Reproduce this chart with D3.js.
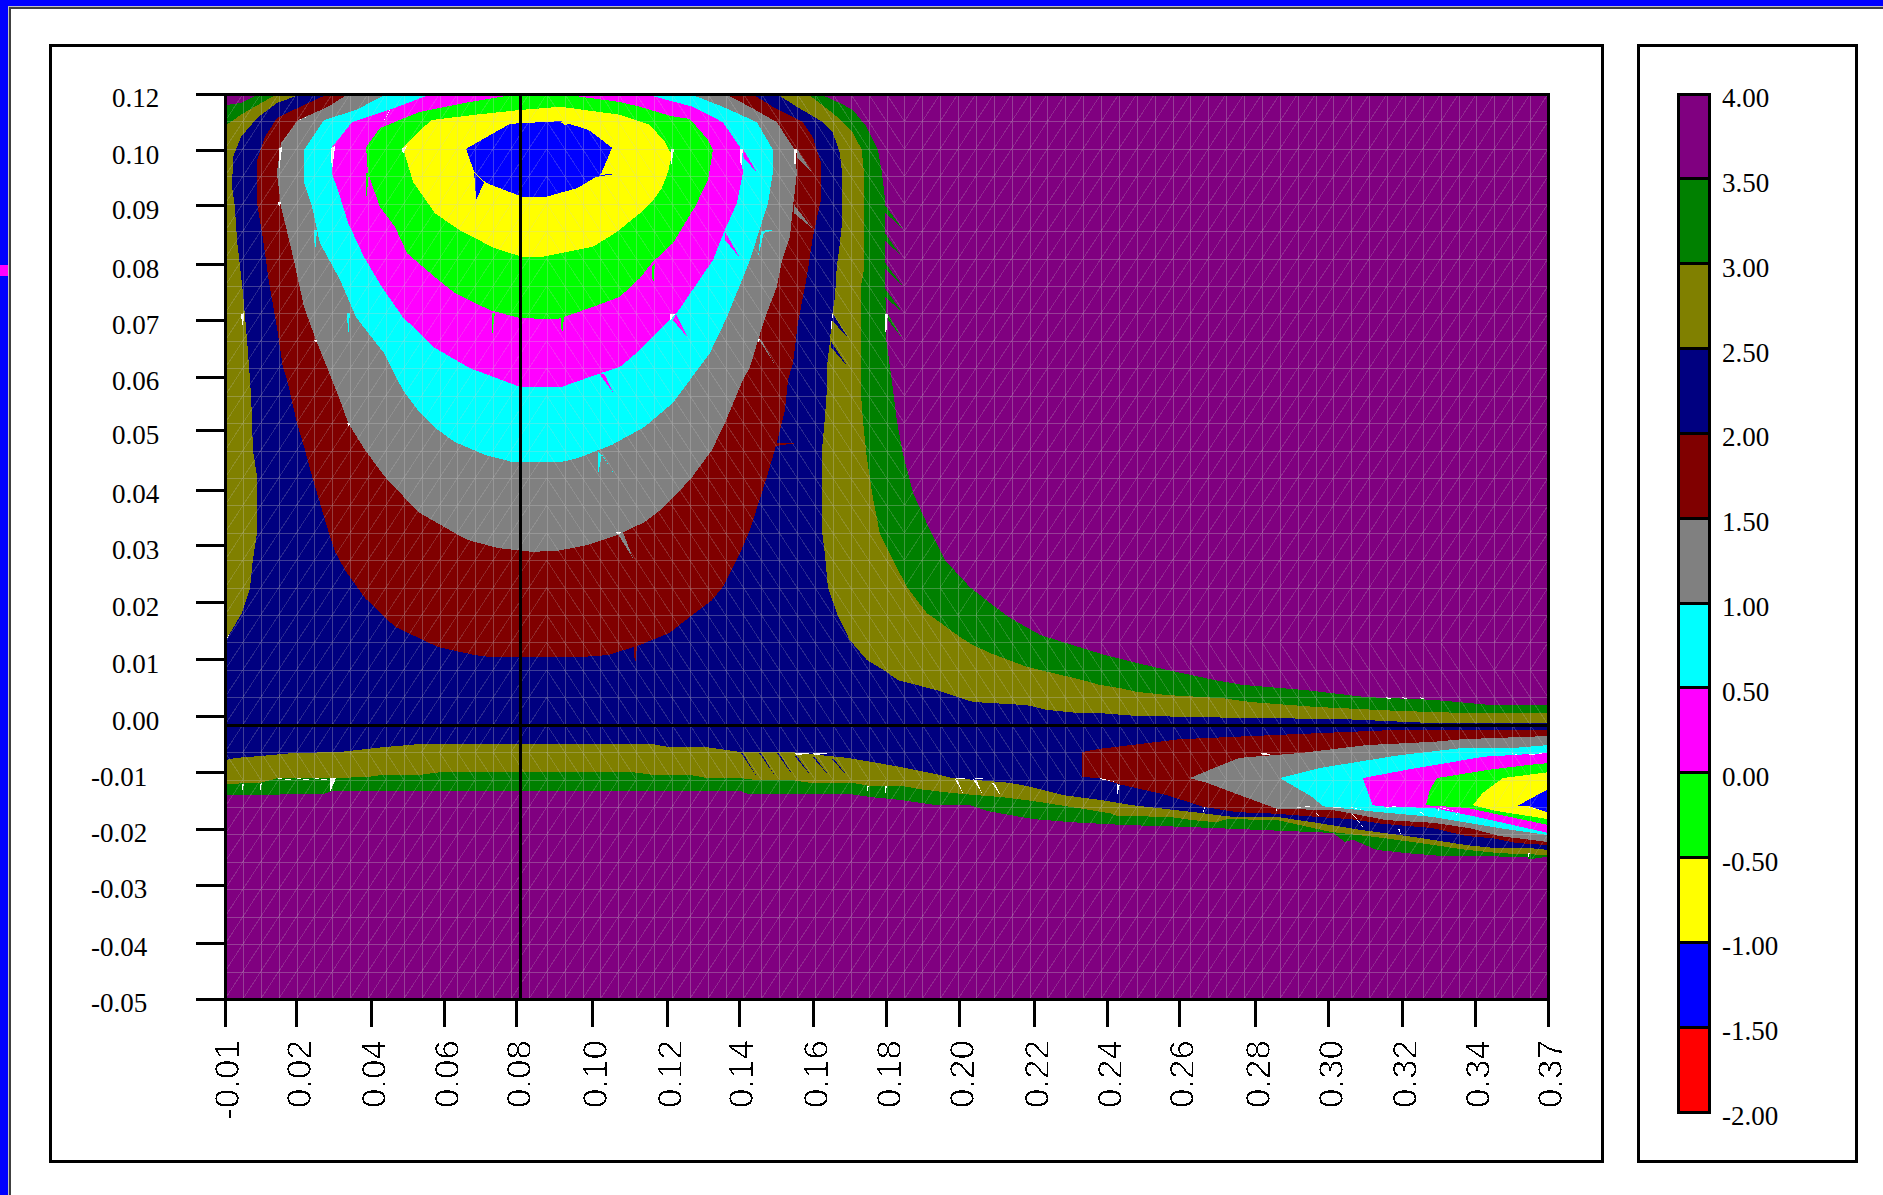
<!DOCTYPE html>
<html><head><meta charset="utf-8">
<script src="https://cdnjs.cloudflare.com/ajax/libs/d3/7.8.5/d3.min.js"></script>
<style>html,body{margin:0;padding:0;background:#fff;overflow:hidden}svg{display:block}</style>
</head><body><svg id="c" width="1883" height="1195"></svg>
<script>
// All coordinates below are in thousandths of the axis units.
const xTickVals=[-5,15.4,36.6,57.3,77.7,99.3,120.5,140.7,161.9,182.6,203.3,224.5,245.2,265.6,287.2,307.9,328.8,349.5,370];
const xTickLabels=["-0.01","0.02","0.04","0.06","0.08","0.10","0.12","0.14","0.16","0.18","0.20","0.22","0.24","0.26","0.28","0.30","0.32","0.34","0.37"];
const yTickVals=[120,109.3,99,87.9,77.4,66.8,56.7,45.6,35.1,24.4,13.7,3,-7.5,-18.1,-28.6,-39.5,-50];
const yTickLabels=["0.12","0.10","0.09","0.08","0.07","0.06","0.05","0.04","0.03","0.02","0.01","0.00","-0.01","-0.02","-0.03","-0.04","-0.05"];
const legendLevels=[4,3.5,3,2.5,2,1.5,1,0.5,0,-0.5,-1,-1.5,-2];
const legendLabels=["4.00","3.50","3.00","2.50","2.00","1.50","1.00","0.50","0.00","-0.50","-1.00","-1.50","-2.00"];
const bandColors=["#ff0000","#0000ff","#ffff00","#00ff00","#ff00ff","#00ffff","#808080","#800000","#000080","#808000","#008000","#800080"];
const crossX=78.9, crossY=1.3;

const c35=[[4.6,120],[-0.5,118.3],[-5,117.9],[-5,-11.7],[22.8,-11.5],[25.6,-10.9],[72.9,-10.9],[141,-10.9],[143.2,-11.5],[172.1,-11.5],[178.6,-12.1],[186.3,-12.6],[196.8,-13.6],[206.1,-13.6],[211.2,-14.7],[224,-16.2],[235.3,-16.8],[249.5,-17.3],[268.5,-17.7],[309,-18.8],[312.4,-20.5],[314.7,-20.1],[321.5,-22],[330,-22.6],[339.3,-23.1],[364.8,-23.3],[370,-23.3],[370,5.2],[354.3,5.2],[337.3,6.2],[318.6,6.7],[301.6,8],[283.5,9],[275.6,9.9],[258,12.4],[244.4,14.6],[226,18.4],[217.5,21.6],[211.8,24.4],[206.1,27.4],[199,32.5],[194.8,38.1],[190,45.1],[187.1,52.6],[185.4,58.8],[184,66.3],[182.3,74.4],[182,100.7],[181.2,105.2],[180.1,109.5],[176.9,113.8],[173,117],[169.9,118.1],[163.6,120]];
const c30=[[9.7,120],[-0.5,116.1],[-5,114],[-5,-9.6],[4.9,-9.4],[10,-8.5],[25.6,-8.5],[35.2,-8.3],[39.8,-7.9],[50.3,-7.9],[55.9,-7.4],[72.9,-7.4],[110.6,-7.4],[116.3,-7.9],[126.8,-7.9],[131.6,-8.5],[141,-8.5],[145.8,-8.9],[156,-8.9],[160.8,-9.4],[173,-9.4],[177.8,-10],[187.1,-10],[192,-10.6],[198.5,-11.1],[204.1,-11.5],[215.5,-12.1],[224,-12.8],[233.6,-13.8],[245.8,-15.1],[247.8,-15.6],[262.8,-15.8],[269.3,-16.4],[276.1,-16.8],[279,-16.2],[293.4,-16.4],[308.2,-18.6],[321.5,-19.6],[333.7,-20.7],[347,-22],[356.3,-22.6],[370,-23],[370,3.7],[347.8,3.7],[328,4.1],[303.3,4.9],[285.5,5.8],[277.8,6.5],[262,7.1],[253.5,7.7],[248.6,8.4],[243,9],[238.2,9.9],[226,11.8],[222.3,12.4],[211.8,15],[207,16.5],[203.3,18],[197.6,20.8],[193.9,22.5],[188.3,27.4],[184.3,32.5],[180.6,37.5],[178.6,44.3],[176.9,51.8],[175.8,58.8],[175.2,64.4],[175.2,83.7],[176.1,86.9],[176.1,105.2],[175.5,109.5],[173,112.7],[170.1,114.7],[167.3,116.4],[160.2,120]];
const c25=[[16.8,120],[9.7,118.3],[4.1,115.5],[-0.5,111.9],[-2.7,108.2],[-3,102.5],[-2.2,98.8],[-1.6,92.6],[0.1,82.6],[1.2,74.2],[2.1,66.3],[2.6,60.1],[2.9,53.1],[4.1,48.1],[4.1,37.7],[2.9,32.5],[2.1,27.2],[-0.2,22.5],[-4.4,17.8],[-5,17.4],[-5,-5.1],[-1.6,-4.7],[4.3,-4.4],[14.3,-3.8],[27.6,-3.6],[39.8,-2.7],[50.3,-2.1],[116,-2.1],[121.1,-2.7],[131.6,-2.7],[141,-3.6],[155.1,-3.6],[171.3,-4.7],[176.9,-5.3],[186.3,-6.4],[197.6,-7.9],[201.3,-8.5],[217.5,-9.4],[222.3,-10],[232.5,-11.7],[243,-12.6],[252.3,-13.6],[272.2,-15.1],[280.7,-15.8],[293.1,-15.8],[304.5,-16.9],[317.5,-18.3],[328,-19.2],[337.3,-20.1],[347,-21.1],[354.3,-21.6],[364,-21.6],[370,-22],[370,1.8],[338.5,1.8],[311,2.6],[282.6,2.8],[252.9,3.2],[243,3.7],[237.3,3.7],[228,4.3],[222.3,5.2],[207,5.8],[196.8,8],[185.7,9.9],[182.6,11.4],[176.9,13.7],[172.1,17.4],[168.4,22.5],[165.9,27.4],[165,33.8],[164.2,38.1],[164.2,53.1],[165,58.8],[165.6,64.4],[165.6,68.7],[166.5,73.8],[167,78.1],[167.9,81.9],[168.4,87.5],[169.3,92],[169.9,95.8],[169.9,105.2],[169.3,108.9],[167.3,112.7],[164.5,114.7],[157.1,117.6],[151.4,120]];
const c20=[[24.2,120],[16.3,117.6],[9.7,115.5],[6.3,111.9],[4.1,107.6],[4.1,99.5],[5.8,92.6],[7.5,84.5],[9.7,76.2],[11.4,68.7],[12.6,66.3],[15.4,58.2],[17.7,53.1],[19.7,48.1],[24.2,38.1],[26.2,34],[29,30.6],[34.7,25.3],[43.2,19.9],[55.4,16.1],[65.9,14.6],[70.7,14.2],[95,14.2],[103.5,14.6],[112.6,16.5],[121.1,18.8],[126.8,21.8],[133,24.9],[136.1,27.4],[141,33.8],[143.8,38.1],[148.6,48.1],[151.4,54.4],[153.7,60.6],[154.6,66.3],[156,69.5],[157.4,77],[159.9,85.6],[161.6,93.1],[163.9,100.1],[163.9,107.2],[161.6,111.9],[158.8,114.7],[150.3,117.6],[144.4,120]];
const w20=[[237.9,-3.6],[243,-3],[265.6,-1.2],[293.1,-0.4],[325.2,0.5],[370,0.5],[370,-21.1],[361.1,-20.7],[354.3,-19.8],[347,-19.4],[337.3,-17.9],[323.2,-17.1],[313.8,-16.2],[304.5,-15.8],[293.1,-15.2],[281.8,-14.9],[272.2,-13.9],[262,-11.7],[248.1,-9.6],[243,-8.5],[237.9,-8.3]];
const c15=[[29.9,120],[24.2,117.6],[15.7,115.1],[10.9,110.8],[9.7,105.2],[10.9,98.8],[14.3,89.4],[17.4,80],[20.8,73.8],[24.2,68.2],[27.6,62.5],[29.9,58.2],[34.7,53.1],[40.3,48.1],[46,44.1],[49.7,41.5],[60.2,37.5],[63.9,36.2],[72.4,34.7],[82,34],[89.4,34.2],[97.9,35.3],[106.4,37.2],[114,39.6],[118.3,41.8],[126.8,47.5],[133,53.1],[136.7,58.2],[141.8,66.3],[143.8,68.7],[146.1,73.8],[148.6,78.9],[151.4,83.7],[152.9,88.8],[155.1,93.1],[156,98.8],[157.1,105.2],[156.5,109.5],[151.4,114.7],[143.8,117.6],[136.7,120]];
const w15=[[268.5,-8.5],[276.1,-6.4],[282.6,-4.7],[299.7,-3.8],[318.6,-2.3],[337.3,-1.7],[345.8,-1.2],[370,-0.6],[370,-20.5],[356.3,-19.4],[347.8,-17.9],[337.3,-16.9],[324.3,-16.4],[309,-14.5],[293.1,-14.3],[291.2,-13.8],[282.6,-11.7],[273.3,-9.4]];
const c10=[[40.9,120],[32.1,117],[23.1,115.1],[17.4,109.5],[17.4,103.3],[19.7,98.8],[21.9,92],[27.6,85.1],[32.1,78.1],[40.1,71.3],[45.4,64.4],[49.7,60.6],[54.5,57.3],[60.2,54.6],[68.7,52.2],[76.3,50.9],[90.5,50.9],[95,51.6],[104.7,54.1],[114,57.5],[122,62],[126.8,66.3],[132.4,71.3],[137.3,78.1],[143.8,88.8],[148.9,99.5],[150.3,105.2],[150.3,109.5],[145.8,114.7],[136.1,117.6],[126.8,120]];
const w10=[[294,-8.5],[305.3,-6.6],[313.8,-5.7],[328,-4.2],[345,-2.9],[359.2,-2.9],[370,-2.3],[370,-19.2],[356.3,-17.9],[337.3,-15.8],[322.3,-14.9],[306.2,-13.8],[303.3,-12.1]];
const c05=[[53.4,120],[43.2,117.4],[31,114.7],[25.3,110],[25.3,105.2],[27.6,100.7],[29.9,95.8],[34.4,89.4],[39.5,83.7],[45.4,78.1],[54.5,72.3],[64.4,68.5],[78.6,65],[90.5,65],[101.6,67.6],[106.9,68.7],[112.6,71.9],[123.1,78.9],[133.3,88.8],[136.7,94.5],[140.1,99.5],[141.8,105.2],[141,110],[136.1,114.7],[127.6,117.6],[114,120]];
const w05=[[317.5,-8.5],[332.8,-6.6],[338.5,-6],[351.5,-4.5],[370,-3.8],[370,-18.8],[349.8,-15.8],[337.3,-14.1],[324.3,-13.9],[320.3,-13.6]];
const c00=[[78.3,120],[64.4,118.5],[50,116.6],[38.9,113.6],[35,110],[35.5,105.2],[38.9,98.8],[43.2,95],[46.6,90.1],[54.5,85.6],[60.2,82.6],[70.1,79.4],[78.6,77.9],[89.1,77.7],[99.3,80],[106.9,81.9],[112.6,85.4],[116,88.3],[122,92],[128.2,98.8],[131.9,103.8],[133.3,109.5],[131.9,111.4],[126.8,115.3],[121.1,115.9],[112.6,117.6],[106.9,118.5],[89.9,120]];
const w00=[[338.5,-8.5],[352.6,-7],[364.8,-6],[370,-5.7],[370,-17.3],[356.3,-15.4],[347,-14.1],[335.4,-13.6],[336.5,-10.7]];
const cM05=[[45.4,109.9],[53.4,115.1],[65.9,116.1],[78.6,117],[90.2,117.6],[106.9,116.1],[115.4,114.2],[119.7,111],[121.7,108.5],[120.5,105.2],[118.8,102.3],[116,99.7],[112.6,97.6],[106.1,94.1],[99.3,91.3],[84.8,89.4],[79.2,89.4],[71.2,91.1],[61.3,94.5],[54.5,97.6],[48.3,103.5]];
const wM05=[[348.7,-13.6],[351.5,-11.3],[357.2,-8.5],[370,-7.4],[370,-16.2],[355.5,-14.7]];
const cM10=[[63.3,109.7],[75.8,114.4],[90.2,114.9],[98.2,113.2],[104.7,109.9],[101.6,105],[94.8,102.3],[86,100.7],[79.2,100.7],[69,103.3],[65.6,105.4]];
const wM10=[[361.1,-13.8],[370,-10.6],[370,-15],[364.8,-13.8]];

// thin triangular artefacts of the contouring: [x1,y1,x2,y2,x3,y3]
const holes=[[121.4,109.7,122.3,109.7,121.4,106.3],[141,109.7,141.8,109.7,141.2,105.2],[156.3,109.7,157.1,109.7,156.5,105.2],[121.1,78.7,122.8,78.7,121.1,77.5],[146.1,74,146.9,74,146.1,73.4],[167,78.7,167.3,78.7,166.7,74.2],[182,78.7,182.9,78.7,182.3,74.2],[10.3,109.8,11.2,110,10.3,105.2],[25,109.8,26.2,110.2,25.3,105.4],[45.2,109.8,46.6,110.2,45.4,108.7],[40.1,115.1,42,117.4,40.6,115.5],[15.4,114.9,19.7,116.1,16,115.1],[10,99.7,10.9,99.7,10.3,98.6],[-0.5,78.5,0.4,78.9,0.1,76],[20.2,73.8,21.1,73.8,20.8,73.2],[29.6,58.2,30.4,58.2,30.1,57.4],[105.8,37.7,107.5,37.7,106.4,37.2],[-4.4,17.8,-1.3,21.7,-4.1,18],[-0.2,-9.6,0.4,-9.6,-0.2,-11.3],[4.9,-9.6,5.5,-9.4,4.9,-11.3],[10,-8.5,15.4,-8.9,10,-8.7],[15.4,-8.5,20.5,-8.9,15.4,-8.7],[20.5,-8.5,25.6,-8.9,20.5,-8.7],[24.8,-8.5,26.5,-8.5,24.8,-11.1],[156.3,-3.8,161.4,-3.8,157.1,-4.2],[161.6,-3.8,166.5,-3.8,162.2,-4.2],[176.9,-10,177.5,-10,176.9,-11.5],[182,-10,182.6,-10,182,-12.1],[201.9,-8.7,204.1,-11.3,202.7,-8.9],[201.9,-8.5,206.1,-8.5,202.7,-8.7],[207,-8.7,209.5,-11.3,208.1,-8.9],[207,-8.5,211.2,-8.5,208.1,-8.7],[212.3,-9.4,215.2,-12.1,213.2,-9.6],[243,-8.5,248.1,-9.3,243,-8.7],[247.8,-9.6,248.6,-9.8,247.8,-12.1],[272.5,-13.9,272.8,-13.9,272.2,-15.2],[288.6,-3.8,292.5,-4,289.2,-4.2],[293.1,-14.3,293.4,-14.3,292.5,-15.2],[298.5,-13.9,303,-13.8,299.1,-14.1],[303.9,-15,305.3,-15.9,304.5,-15],[309,-13.9,312.4,-14.1,309,-14.1],[314.1,-13.9,317.5,-14.5,314.4,-14.1],[314.4,-15.2,318.6,-18.6,314.7,-15.2],[328,-18,328.3,-19.1,327.4,-18],[323.7,-13.9,327.4,-13.8,324.3,-14.1],[333.7,-14.9,336,-16,334.2,-14.9],[338.8,-14.1,339.3,-14.1,338.8,-15],[339.3,-13.9,343.6,-14.7,339.3,-14.1],[344.2,-14.9,344.4,-14.9,343.9,-15.7],[359.7,-3.8,362,-4.2,360,-4],[364.5,-4,369.4,-3.8,364.8,-4.2],[324.3,6.7,326,6.3,323.7,6.5],[328.8,6.7,330.8,6.3,328.5,6.5],[333.7,6.7,335.7,6.3,333.4,6.5],[364.2,-22.6,364.8,-22.6,364.2,-23.8],[364.2,-13.9,369.4,-14.7,364.8,-14.1]];
const spikes35=[[182.9,78.7,186.9,74.2,182.9,77.5],[182,99.2,186.9,94.8,182,97.8],[182,93.9,186.9,89.4,182,92.6],[182,88.4,186.9,84.1,182,87.3],[182,83.5,186.9,79.1,182,81.9],[364.2,-22.6,364.2,-23.8,369.7,-23.3]];
const spikes25=[[167.3,78.7,171.6,74.2,167,77.5],[166.7,73.6,171.6,68.7,166.7,72.5],[141.3,-3.8,145.8,-8.3,141.8,-3.8],[146.4,-3.8,151.1,-8.3,146.9,-3.8],[151.4,-3.8,156.3,-8.3,152,-3.8],[156.5,-4.4,161.4,-8.3,157.1,-4.4],[161.6,-4.6,166.5,-8.3,162.2,-4.6],[167,-4.9,171.6,-8.3,167.6,-4.9]];
const spikes20=[[110.9,16.5,111.8,16.5,111.2,12.4],[150,54.5,158,54.5,150,53.8]];
const spikes15=[[157.1,109.7,161.4,105.2,157.1,108],[156.3,99.2,161.4,94.8,156.3,97.6],[146.4,73.8,150.9,69.1,146.9,73.9],[106.4,37.3,110.6,32.8,107.8,37.7]];
const spikes10=[[146.9,94.1,147.8,94.1,146.1,89.4],[147,94.3,150.9,94.5,147.2,93.8],[20.2,94.5,21.1,94.5,20.5,90.1],[29.6,78.9,30.4,78.9,29.9,74.2],[100.7,52.9,101.8,52.2,100.7,48.4],[101.3,52.9,105.5,48.4,101.8,52.2]];
const spikes05=[[141.8,109.7,145.8,105.2,141.8,108.2],[136.7,94.1,141,89.2,136.7,92.6],[122.8,78.7,126.2,74.2,122,77.5],[100.7,67.8,105,63.9,102.7,67.2]];
const spikes00=[[116,87.5,116.9,88.3,116.3,83.7],[35,105.2,35.8,105.2,35,100.1],[70.7,78.9,71.5,78.9,70.7,74.4],[90.2,78.1,91.1,78.1,90.5,74.4]];
const spikesM05=[[90.2,114.7,95.3,114.7,91.4,114.2]];
const spikesM10=[[65.6,105.2,66.2,100.1,68.4,103.3],[101,104.8,105.8,105,99.9,104.4]];

const contourLevels=[
 {level:3.5,polys:[c35]},
 {level:3.0,polys:[c30]},
 {level:2.5,polys:[c25]},
 {level:2.0,polys:[c20,w20]},
 {level:1.5,polys:[c15,w15]},
 {level:1.0,polys:[c10,w10]},
 {level:0.5,polys:[c05,w05]},
 {level:0.0,polys:[c00,w00]},
 {level:-0.5,polys:[cM05,wM05]},
 {level:-1.0,polys:[cM10,wM10]}
];
const spikeLevels=[[3.5,spikes35],[2.5,spikes25],[2.0,spikes20],[1.5,spikes15],[1.0,spikes10],[0.5,spikes05],[0.0,spikes00],[-0.5,spikesM05],[-1.0,spikesM10]];

const svg=d3.select("#c");
const x=d3.scaleLinear([-5,370],[225,1548]);
const y=d3.scaleLinear([-50,120],[999,94]);
const legendY=d3.scaleLinear([-2,4],[1112,94]);
const band=d3.scaleThreshold(d3.range(-1.5,4,0.5),bandColors);
const colorOf=u=>band(u-0.25);
const line=d3.line(d=>x(d[0]),d=>y(d[1])).curve(d3.curveLinearClosed);
const tri=t=>[[t[0],t[1]],[t[2],t[3]],[t[4],t[5]]];

// page chrome
svg.append("rect").attr("width",1883).attr("height",6).attr("fill","#0000ff");
svg.append("rect").attr("width",8).attr("height",1195).attr("fill","#0000ff");
svg.append("rect").attr("y",265).attr("width",8).attr("height",11).attr("fill","#ff00ff");
svg.append("rect").attr("x",8).attr("y",6).attr("width",1875).attr("height",1).attr("fill","#c0c0c0");
svg.append("rect").attr("x",8).attr("y",7).attr("width",1875).attr("height",2).attr("fill","#404040");
svg.append("rect").attr("x",8).attr("y",7).attr("width",1).attr("height",1188).attr("fill","#c0c0c0");
svg.append("rect").attr("x",9).attr("y",7).attr("width",2).attr("height",1188).attr("fill","#404040");
[[50,45,1552,1116],[1638,45,218,1116]].forEach(r=>{
  svg.append("rect").attr("x",r[0]).attr("y",r[1]).attr("width",r[2]).attr("height",r[3])
   .attr("fill","#fff").attr("stroke","#000").attr("stroke-width",3).attr("shape-rendering","crispEdges");
});

// contour bands
const defs=svg.append("defs");
defs.append("clipPath").attr("id","plot").append("rect").attr("x",225).attr("y",94).attr("width",1323).attr("height",905);
const f=defs.append("filter").attr("id","hard").attr("color-interpolation-filters","sRGB")
 .attr("filterUnits","userSpaceOnUse").attr("x",-200).attr("y",-60).attr("width",400).attr("height",120);
f.append("feColorMatrix").attr("type","matrix").attr("values","0 0 0 0 0  0 0 0 0 0  0 0 0 0 0  -1 0 0 1 0");
f.append("feComponentTransfer").append("feFuncA").attr("type","discrete").attr("tableValues","0 1");
const g=svg.append("g").attr("clip-path","url(#plot)").attr("shape-rendering","crispEdges");
g.append("rect").attr("x",225).attr("y",94).attr("width",1323).attr("height",905).attr("fill",colorOf(4));
contourLevels.forEach(l=>{
  g.selectAll(null).data(l.polys).join("path").attr("d",line).attr("fill",colorOf(l.level));
});
spikeLevels.forEach(s=>{
  g.selectAll(null).data(s[1]).join("path").attr("d",t=>line(tri(t))).attr("fill",colorOf(s[0]));
});
g.selectAll(null).data(holes).join("path").attr("d",t=>line(tri(t))).attr("fill","#fff");

// triangular mesh
const nCols=74,nRows=33;
const mx=d3.range(nCols+1).map(i=>-5+i*375/nCols);
const my=d3.range(nRows+1).map(j=>120-j*170/nRows);
let grid="",diag="";
mx.forEach(v=>{grid+=`M${Math.round(x(v))},94V999`;});
my.forEach(v=>{grid+=`M225,${Math.round(y(v))}H1548`;});
const limit=py=>py<588?910:py<640?950:py<668?1040:py<697?1490:1e9;
for(let i=0;i<nCols;i++)for(let j=0;j<nRows;j++){
  const x0=x(mx[i]),x1=x(mx[i+1]),y0=y(my[j]),y1=y(my[j+1]),cx=(x0+x1)/2,bot=y1;
  let back;
  if(bot>806) back=false;
  else if(bot>=776) back=true;
  else back=cx>=547 && cx<limit(bot);
  diag+=back?`M${x0},${y0}L${x1},${y1}`:`M${x0},${y1}L${x1},${y0}`;
}
g.append("path").attr("d",grid).attr("fill","none").attr("stroke","rgba(205,205,205,0.30)").attr("stroke-width",1);
g.append("path").attr("d",diag).attr("fill","none").attr("stroke","rgba(205,205,205,0.20)").attr("stroke-width",1);

// cross-hair
const ch=svg.append("g").attr("shape-rendering","crispEdges").attr("stroke","#000").attr("stroke-width",3);
ch.append("line").attr("x1",x(crossX)).attr("x2",x(crossX)).attr("y1",94).attr("y2",999);
ch.append("line").attr("x1",225).attr("x2",1550).attr("y1",y(crossY)).attr("y2",y(crossY));

// axes
const ax=svg.append("g").attr("shape-rendering","crispEdges").attr("stroke","#000");
ax.append("line").attr("x1",196).attr("x2",1550).attr("y1",94.5).attr("y2",94.5).attr("stroke-width",3);
ax.append("line").attr("x1",196).attr("x2",1550).attr("y1",999).attr("y2",999).attr("stroke-width",3);
ax.append("line").attr("x1",225).attr("x2",225).attr("y1",94).attr("y2",999).attr("stroke-width",3);
ax.append("line").attr("x1",1548).attr("x2",1548).attr("y1",94).attr("y2",999).attr("stroke-width",3);
ax.selectAll(null).data(xTickVals).join("line").attr("x1",d=>x(d)).attr("x2",d=>x(d)).attr("y1",999).attr("y2",1027).attr("stroke-width",3);
ax.selectAll(null).data(yTickVals).join("line").attr("x1",196).attr("x2",225).attr("y1",d=>y(d)).attr("y2",d=>y(d)).attr("stroke-width",3);

svg.selectAll(null).data(yTickLabels).join("text").text(d=>d)
 .attr("x",d=>d[0]==="-"?91:112).attr("y",(d,i)=>y(yTickVals[i])+13)
 .attr("font-family","'Liberation Serif'").attr("font-size",27).attr("fill","#000");
svg.selectAll(null).data(xTickLabels).join("text").text(d=>d)
 .attr("transform",(d,i)=>`translate(${x(xTickVals[i])+14},1040) rotate(-90)`)
 .attr("text-anchor","end").attr("font-family","'Liberation Sans'").attr("font-size",35)
 .attr("fill","#000").attr("stroke","#fff").attr("stroke-width",0.6).attr("filter","url(#hard)");

// legend
const lg=svg.append("g").attr("shape-rendering","crispEdges");
lg.selectAll(null).data(legendLevels.slice(0,12)).join("rect")
 .attr("x",1678).attr("width",31).attr("y",d=>legendY(d)).attr("height",d=>legendY(d-0.5)-legendY(d))
 .attr("fill",d=>colorOf(d)).attr("stroke","#000").attr("stroke-width",3);
svg.selectAll(null).data(legendLabels).join("text").text(d=>d)
 .attr("x",1722).attr("y",(d,i)=>legendY(legendLevels[i])+13)
 .attr("font-family","'Liberation Serif'").attr("font-size",27).attr("fill","#000");
</script></body></html>
